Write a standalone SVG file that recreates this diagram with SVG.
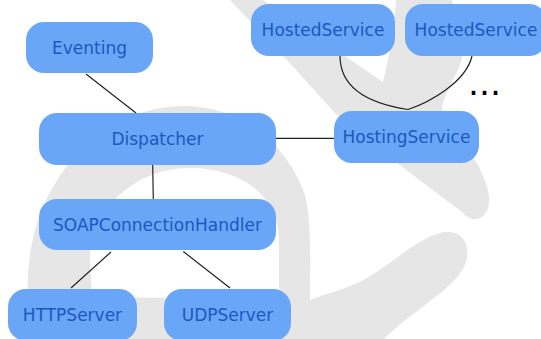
<svg xmlns="http://www.w3.org/2000/svg" width="541" height="339" viewBox="0 0 541 339">
  <style>
    .mark { fill: #e6e6e6; }
    .box { fill: #6aa6f8; }
    .label { font-family: "DejaVu Sans", sans-serif; font-size: 17px; fill: #1c58bd; text-anchor: middle; }
    .edge { fill: none; stroke: #222; stroke-width: 1.2; }
  </style>
  <rect width="541" height="339" fill="#ffffff"/>

  <!-- background logo -->
  <g id="backdrop">
    <path class="mark" d="M 230,0 L 263,0 L 383,82 C 388,62 394,30 396,0 L 452,0 C 458,20 463,40 462,58 C 458,75 445,90 442,108 C 450,130 470,150 478,165 C 485,180 492,195 488,208 C 484,220 472,224 462,212 L 430,188 L 397,163 L 335,113 L 285,58 Z"/>
    <path class="mark" fill-rule="evenodd" d="M 28,300 C 22,190 95,106 185,106 C 245,106 290,150 305,195 C 312,225 310,265 310,300 C 330,292 350,288 365,279 C 395,262 415,240 440,233 C 458,228 470,240 467,258 C 464,275 445,290 425,305 C 405,320 390,332 378,345 L 25,345 Z M 92,297 L 90,260 C 90,215 130,168 190,168 C 240,168 279,195 279,240 L 279,297 C 220,298 150,298 92,297 Z"/>
  </g>

  <g id="connectors">
    <line class="edge" x1="86" y1="74" x2="136" y2="113"/>
    <line class="edge" x1="152.7" y1="165" x2="153.3" y2="199"/>
    <line class="edge" x1="276" y1="138.3" x2="335" y2="138.3"/>
    <line class="edge" x1="111" y1="252" x2="71" y2="288"/>
    <line class="edge" x1="183.3" y1="251.5" x2="230" y2="288"/>
    <path class="edge" d="M 340,56 C 340,90 372,104 408,109.5"/>
    <path class="edge" d="M 472,56 C 466,82 430,102 408,109.5"/>
  </g>

  <g id="eventing">
    <rect class="box" x="26" y="22" width="127" height="51" rx="18"/>
    <text class="label" x="89.5" y="54">Eventing</text>
  </g>
  <g id="dispatcher">
    <rect class="box" x="39" y="113" width="237" height="52" rx="18"/>
    <text class="label" x="157.5" y="145">Dispatcher</text>
  </g>
  <g id="soap-connection-handler">
    <rect class="box" x="39" y="199" width="237" height="51" rx="18"/>
    <text class="label" x="157.5" y="231">SOAPConnectionHandler</text>
  </g>
  <g id="http-server">
    <rect class="box" x="8" y="289" width="129" height="52" rx="18"/>
    <text class="label" x="72.5" y="321">HTTPServer</text>
  </g>
  <g id="udp-server">
    <rect class="box" x="164" y="289" width="127" height="52" rx="18"/>
    <text class="label" x="227.5" y="321">UDPServer</text>
  </g>
  <g id="hosting-service">
    <rect class="box" x="334" y="111" width="145" height="52" rx="18"/>
    <text class="label" x="406.5" y="143">HostingService</text>
  </g>
  <g id="hosted-service-1">
    <rect class="box" x="251" y="4" width="144" height="52" rx="18"/>
    <text class="label" x="323" y="36">HostedService</text>
  </g>
  <g id="hosted-service-2">
    <rect class="box" x="405" y="4" width="142" height="52" rx="18"/>
    <text class="label" x="476" y="36">HostedService</text>
  </g>

  <text id="more" x="468" y="94.5" font-family="DejaVu Sans, sans-serif" font-size="34.6" fill="#000000">...</text>
</svg>
